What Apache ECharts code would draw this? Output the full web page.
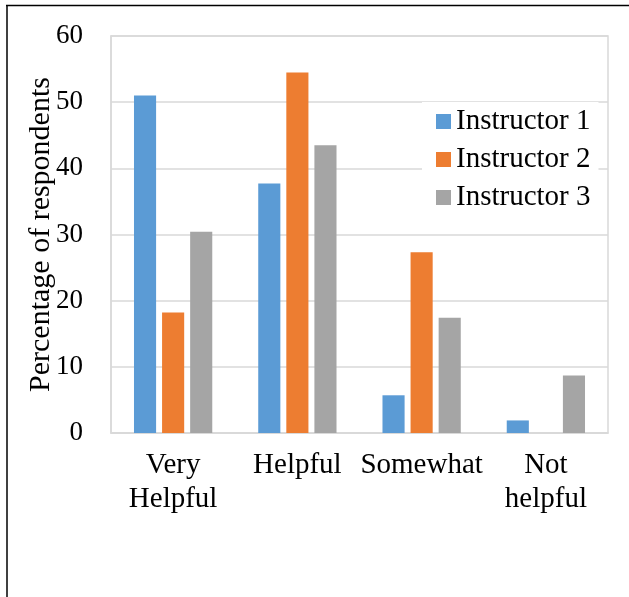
<!DOCTYPE html>
<html>
<head>
<meta charset="utf-8">
<script src="https://cdn.jsdelivr.net/npm/echarts@6/dist/echarts.min.js"></script>
<style>
  html, body { margin: 0; padding: 0; background: #fff; }
  #main { width: 629px; height: 597px; }
</style>
</head>
<body>
<div id="main"></div>
<script>
// chart data
const categories = ['Very\nHelpful', 'Helpful', 'Somewhat', 'Not\nhelpful'];
const instructor1 = [51.0, 37.7, 5.7, 1.9];
const instructor2 = [18.2, 54.5, 27.3, 0];
const instructor3 = [30.4, 43.5, 17.4, 8.7];
const seriesNames = ['Instructor 1', 'Instructor 2', 'Instructor 3'];
const yTicks = { min: 0, max: 60, interval: 10 };

const font = 'Liberation Serif';
const colors = ['#5B9BD5', '#ED7D31', '#A5A5A5'];

const chart = echarts.init(document.getElementById('main'), null, { renderer: 'canvas' });

function bar(name, data, color) {
  return {
    name: name,
    type: 'bar',
    data: data,
    barGap: '27%',
    barCategoryGap: '37%',
    itemStyle: { color: color },
    emphasis: { disabled: true }
  };
}

const option = {
  backgroundColor: '#fff',
  animation: false,
  textStyle: { fontFamily: font, color: '#000' },
  grid: {
    left: 111,
    right: 21,
    top: 36,
    bottom: 164,
    show: true,
    borderColor: '#d9d9d9',
    borderWidth: 1.5
  },
  legend: {
    orient: 'vertical',
    left: 422,
    top: 102,
    padding: [5, 8, 5, 14],
    backgroundColor: '#fff',
    itemWidth: 15,
    itemHeight: 15,
    itemGap: 9,
    icon: 'rect',
    textStyle: { fontFamily: font, fontSize: 29, color: '#000', lineHeight: 29 },
    data: seriesNames
  },
  xAxis: {
    type: 'category',
    data: categories,
    axisLine: { lineStyle: { color: '#d9d9d9', width: 1.5 } },
    axisTick: { show: false },
    axisLabel: {
      fontFamily: font,
      fontSize: 29,
      lineHeight: 34,
      color: '#000',
      margin: 15,
      interval: 0
    }
  },
  yAxis: {
    type: 'value',
    min: yTicks.min,
    max: yTicks.max,
    interval: yTicks.interval,
    name: 'Percentage of respondents',
    nameLocation: 'middle',
    nameGap: 55,
    nameMoveOverlap: false,
    nameTextStyle: { fontFamily: font, fontSize: 30, color: '#000' },
    axisLine: { show: true, lineStyle: { color: '#d9d9d9', width: 1.5 } },
    axisTick: { show: false },
    splitLine: { lineStyle: { color: '#d9d9d9', width: 1.5 } },
    axisLabel: { fontFamily: font, fontSize: 27, color: '#000', margin: 28 }
  },
  graphic: [
    // outer frame of the original figure (top and left edges)
    { type: 'line', shape: { x1: 6, y1: 5.5, x2: 629, y2: 5.5 }, style: { stroke: '#000', lineWidth: 1.5 } },
    { type: 'line', shape: { x1: 7, y1: 5, x2: 7, y2: 597 }, style: { stroke: '#000', lineWidth: 1.5 } }
  ],
  series: [
    bar(seriesNames[0], instructor1, colors[0]),
    bar(seriesNames[1], instructor2, colors[1]),
    bar(seriesNames[2], instructor3, colors[2])
  ]
};

chart.setOption(option);
</script>
</body>
</html>
